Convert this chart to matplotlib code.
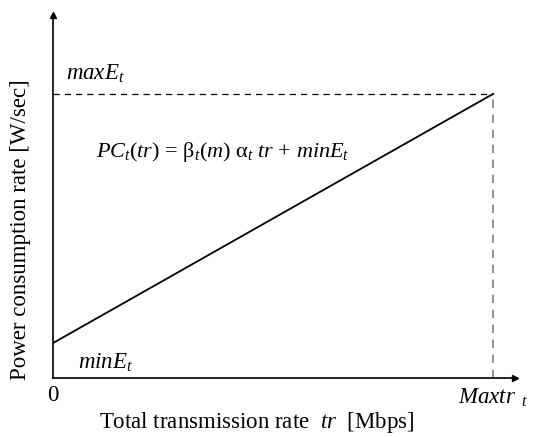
import matplotlib
matplotlib.use("Agg")
import matplotlib.pyplot as plt

plt.rcParams['font.family'] = ['Liberation Serif', 'DejaVu Serif']
plt.rcParams['mathtext.fontset'] = 'custom'
plt.rcParams['mathtext.rm'] = 'Liberation Serif'
plt.rcParams['mathtext.it'] = 'Liberation Serif:italic'

# data (normalised units)
tr = [0, 1.0]             # 0 .. Maxtr_t
pc = [0.123, 1.0]         # minE_t .. maxE_t
x_max = 1.05
y_max = 1.278

fig = plt.figure(figsize=(5.37, 4.37), dpi=100)
ax = fig.add_axes([53/537, 59/437, 462/537, 363/437])

ax.plot(tr, pc, color="black", lw=1.3)
# dashed guides
ax.plot([0, tr[1]], [pc[1], pc[1]], color="black", ls=(0, (5, 4)), lw=0.9)
ax.plot([tr[1], tr[1]], [0, pc[1]], color="gray", ls=(0, (5, 4)), lw=1.2)

ax.set_xlim(0, x_max)
ax.set_ylim(0, y_max)
ax.spines['top'].set_visible(False)
ax.spines['right'].set_visible(False)
ax.spines['left'].set_linewidth(1.2)
ax.spines['bottom'].set_linewidth(1.2)
ax.set_xticks([])
ax.set_yticks([])

# arrow heads
ax.plot(1, 0, ">", color="black", ms=4, transform=ax.transAxes, clip_on=False)
ax.plot(0, 1, "^", color="black", ms=4, transform=ax.transAxes, clip_on=False)

fs = 16.5
ax.text(0.03, pc[1] + 0.03, r"$maxE_t$", fontsize=fs, ha="left", va="bottom")
ax.text(0.057, pc[0] - 0.03, r"$minE_t$", fontsize=fs, ha="left", va="top")
ax.text(0.386, 0.795, r"$PC_t(tr)$ = $\mathrm{\beta}_t(m)$ $\mathrm{\alpha}_t\ tr$ + $minE_t$",
        fontsize=16, ha="center", va="center")
ax.text(0, -0.025, "0", fontsize=fs, ha="center", va="top")
ax.text(tr[1] - 0.08, -0.03, r"$Maxtr_{\ \ t}$", fontsize=fs, ha="left", va="top")

ax.set_xlabel(r"Total transmission rate  $tr$  [Mbps]", fontsize=fs, labelpad=23, x=0.44)
ax.set_ylabel("Power consumption rate [W/sec]", fontsize=fs, labelpad=16, y=0.41)

fig.savefig("out.png", dpi=100)
